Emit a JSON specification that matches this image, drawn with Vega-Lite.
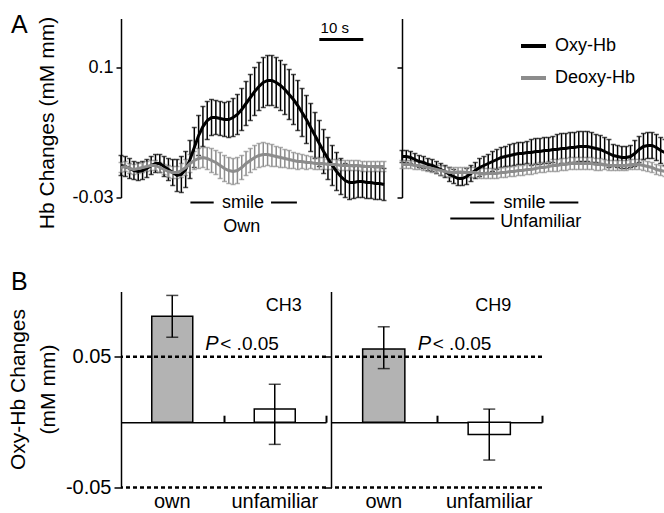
{
"$schema": "https://vega.github.io/schema/vega-lite/v6.json",
"autosize": {"type": "pad"},
"padding": {"left": 7, "top": 12.5, "right": 0, "bottom": 0},
"background": "white",
"config": {
  "font": "Liberation Sans",
  "view": {"stroke": null},
  "axis": {"domainColor": "black", "domainWidth": 1.5, "tickColor": "black", "tickWidth": 1.5, "labelColor": "black", "titleColor": "black", "titleFontWeight": "normal", "grid": false},
  "text": {"font": "Liberation Sans", "color": "black"},
  "legend": {"symbolOpacity": 1}
},
"datasets": {
  "ts": [
{"p":"Own","s":"Oxy-Hb","t":0,"v":0.002,"e":0.010},{"p":"Own","s":"Oxy-Hb","t":1,"v":0.001,"e":0.010},{"p":"Own","s":"Oxy-Hb","t":2,"v":-0.001,"e":0.010},{"p":"Own","s":"Oxy-Hb","t":3,"v":-0.003,"e":0.009},{"p":"Own","s":"Oxy-Hb","t":4,"v":-0.004,"e":0.009},{"p":"Own","s":"Oxy-Hb","t":5,"v":-0.003,"e":0.009},{"p":"Own","s":"Oxy-Hb","t":6,"v":-0.001,"e":0.009},{"p":"Own","s":"Oxy-Hb","t":7,"v":0.002,"e":0.009},{"p":"Own","s":"Oxy-Hb","t":8,"v":0.004,"e":0.009},{"p":"Own","s":"Oxy-Hb","t":9,"v":0.004,"e":0.009},
{"p":"Own","s":"Oxy-Hb","t":10,"v":0.001,"e":0.010},{"p":"Own","s":"Oxy-Hb","t":11,"v":-0.002,"e":0.011},{"p":"Own","s":"Oxy-Hb","t":12,"v":-0.005,"e":0.013},{"p":"Own","s":"Oxy-Hb","t":13,"v":-0.008,"e":0.016},{"p":"Own","s":"Oxy-Hb","t":14,"v":-0.007,"e":0.018},{"p":"Own","s":"Oxy-Hb","t":15,"v":-0.002,"e":0.018},{"p":"Own","s":"Oxy-Hb","t":16,"v":0.008,"e":0.019},{"p":"Own","s":"Oxy-Hb","t":17,"v":0.020,"e":0.020},{"p":"Own","s":"Oxy-Hb","t":18,"v":0.032,"e":0.020},{"p":"Own","s":"Oxy-Hb","t":19,"v":0.041,"e":0.020},
{"p":"Own","s":"Oxy-Hb","t":20,"v":0.047,"e":0.019},{"p":"Own","s":"Oxy-Hb","t":21,"v":0.050,"e":0.018},{"p":"Own","s":"Oxy-Hb","t":22,"v":0.050,"e":0.017},{"p":"Own","s":"Oxy-Hb","t":23,"v":0.049,"e":0.017},{"p":"Own","s":"Oxy-Hb","t":24,"v":0.048,"e":0.017},{"p":"Own","s":"Oxy-Hb","t":25,"v":0.048,"e":0.018},{"p":"Own","s":"Oxy-Hb","t":26,"v":0.050,"e":0.019},{"p":"Own","s":"Oxy-Hb","t":27,"v":0.053,"e":0.020},{"p":"Own","s":"Oxy-Hb","t":28,"v":0.058,"e":0.021},{"p":"Own","s":"Oxy-Hb","t":29,"v":0.064,"e":0.022},
{"p":"Own","s":"Oxy-Hb","t":30,"v":0.070,"e":0.023},{"p":"Own","s":"Oxy-Hb","t":31,"v":0.076,"e":0.024},{"p":"Own","s":"Oxy-Hb","t":32,"v":0.081,"e":0.024},{"p":"Own","s":"Oxy-Hb","t":33,"v":0.085,"e":0.025},{"p":"Own","s":"Oxy-Hb","t":34,"v":0.087,"e":0.025},{"p":"Own","s":"Oxy-Hb","t":35,"v":0.087,"e":0.025},{"p":"Own","s":"Oxy-Hb","t":36,"v":0.085,"e":0.025},{"p":"Own","s":"Oxy-Hb","t":37,"v":0.082,"e":0.025},{"p":"Own","s":"Oxy-Hb","t":38,"v":0.078,"e":0.025},{"p":"Own","s":"Oxy-Hb","t":39,"v":0.073,"e":0.025},
{"p":"Own","s":"Oxy-Hb","t":40,"v":0.068,"e":0.025},{"p":"Own","s":"Oxy-Hb","t":41,"v":0.062,"e":0.025},{"p":"Own","s":"Oxy-Hb","t":42,"v":0.055,"e":0.024},{"p":"Own","s":"Oxy-Hb","t":43,"v":0.048,"e":0.024},{"p":"Own","s":"Oxy-Hb","t":44,"v":0.040,"e":0.024},{"p":"Own","s":"Oxy-Hb","t":45,"v":0.032,"e":0.023},{"p":"Own","s":"Oxy-Hb","t":46,"v":0.024,"e":0.023},{"p":"Own","s":"Oxy-Hb","t":47,"v":0.016,"e":0.022},{"p":"Own","s":"Oxy-Hb","t":48,"v":0.009,"e":0.021},{"p":"Own","s":"Oxy-Hb","t":49,"v":0.002,"e":0.020},
{"p":"Own","s":"Oxy-Hb","t":50,"v":-0.004,"e":0.019},{"p":"Own","s":"Oxy-Hb","t":51,"v":-0.009,"e":0.018},{"p":"Own","s":"Oxy-Hb","t":52,"v":-0.013,"e":0.017},{"p":"Own","s":"Oxy-Hb","t":53,"v":-0.015,"e":0.017},{"p":"Own","s":"Oxy-Hb","t":54,"v":-0.015,"e":0.016},{"p":"Own","s":"Oxy-Hb","t":55,"v":-0.014,"e":0.016},{"p":"Own","s":"Oxy-Hb","t":56,"v":-0.014,"e":0.016},{"p":"Own","s":"Oxy-Hb","t":57,"v":-0.015,"e":0.016},{"p":"Own","s":"Oxy-Hb","t":58,"v":-0.015,"e":0.016},{"p":"Own","s":"Oxy-Hb","t":59,"v":-0.016,"e":0.016},
{"p":"Own","s":"Oxy-Hb","t":60,"v":-0.016,"e":0.016},{"p":"Own","s":"Oxy-Hb","t":61,"v":-0.017,"e":0.016},
{"p":"Own","s":"Deoxy-Hb","t":0,"v":0.000,"e":0.005},{"p":"Own","s":"Deoxy-Hb","t":1,"v":0.001,"e":0.005},{"p":"Own","s":"Deoxy-Hb","t":2,"v":-0.001,"e":0.005},{"p":"Own","s":"Deoxy-Hb","t":3,"v":-0.002,"e":0.005},{"p":"Own","s":"Deoxy-Hb","t":4,"v":-0.001,"e":0.005},{"p":"Own","s":"Deoxy-Hb","t":5,"v":0.000,"e":0.005},{"p":"Own","s":"Deoxy-Hb","t":6,"v":0.001,"e":0.005},{"p":"Own","s":"Deoxy-Hb","t":7,"v":0.002,"e":0.005},{"p":"Own","s":"Deoxy-Hb","t":8,"v":0.002,"e":0.005},{"p":"Own","s":"Deoxy-Hb","t":9,"v":0.000,"e":0.005},
{"p":"Own","s":"Deoxy-Hb","t":10,"v":-0.002,"e":0.005},{"p":"Own","s":"Deoxy-Hb","t":11,"v":-0.004,"e":0.006},{"p":"Own","s":"Deoxy-Hb","t":12,"v":-0.005,"e":0.006},{"p":"Own","s":"Deoxy-Hb","t":13,"v":-0.005,"e":0.006},{"p":"Own","s":"Deoxy-Hb","t":14,"v":-0.003,"e":0.007},{"p":"Own","s":"Deoxy-Hb","t":15,"v":0.000,"e":0.008},{"p":"Own","s":"Deoxy-Hb","t":16,"v":0.004,"e":0.009},{"p":"Own","s":"Deoxy-Hb","t":17,"v":0.007,"e":0.009},{"p":"Own","s":"Deoxy-Hb","t":18,"v":0.009,"e":0.010},{"p":"Own","s":"Deoxy-Hb","t":19,"v":0.010,"e":0.010},
{"p":"Own","s":"Deoxy-Hb","t":20,"v":0.009,"e":0.011},{"p":"Own","s":"Deoxy-Hb","t":21,"v":0.007,"e":0.012},{"p":"Own","s":"Deoxy-Hb","t":22,"v":0.005,"e":0.012},{"p":"Own","s":"Deoxy-Hb","t":23,"v":0.002,"e":0.013},{"p":"Own","s":"Deoxy-Hb","t":24,"v":-0.001,"e":0.013},{"p":"Own","s":"Deoxy-Hb","t":25,"v":-0.003,"e":0.013},{"p":"Own","s":"Deoxy-Hb","t":26,"v":-0.004,"e":0.013},{"p":"Own","s":"Deoxy-Hb","t":27,"v":-0.003,"e":0.013},{"p":"Own","s":"Deoxy-Hb","t":28,"v":0.000,"e":0.012},{"p":"Own","s":"Deoxy-Hb","t":29,"v":0.004,"e":0.012},
{"p":"Own","s":"Deoxy-Hb","t":30,"v":0.007,"e":0.012},{"p":"Own","s":"Deoxy-Hb","t":31,"v":0.010,"e":0.012},{"p":"Own","s":"Deoxy-Hb","t":32,"v":0.012,"e":0.012},{"p":"Own","s":"Deoxy-Hb","t":33,"v":0.013,"e":0.012},{"p":"Own","s":"Deoxy-Hb","t":34,"v":0.013,"e":0.011},{"p":"Own","s":"Deoxy-Hb","t":35,"v":0.012,"e":0.011},{"p":"Own","s":"Deoxy-Hb","t":36,"v":0.011,"e":0.010},{"p":"Own","s":"Deoxy-Hb","t":37,"v":0.010,"e":0.010},{"p":"Own","s":"Deoxy-Hb","t":38,"v":0.009,"e":0.009},{"p":"Own","s":"Deoxy-Hb","t":39,"v":0.008,"e":0.009},
{"p":"Own","s":"Deoxy-Hb","t":40,"v":0.007,"e":0.008},{"p":"Own","s":"Deoxy-Hb","t":41,"v":0.006,"e":0.008},{"p":"Own","s":"Deoxy-Hb","t":42,"v":0.006,"e":0.007},{"p":"Own","s":"Deoxy-Hb","t":43,"v":0.005,"e":0.007},{"p":"Own","s":"Deoxy-Hb","t":44,"v":0.005,"e":0.006},{"p":"Own","s":"Deoxy-Hb","t":45,"v":0.004,"e":0.006},{"p":"Own","s":"Deoxy-Hb","t":46,"v":0.004,"e":0.006},{"p":"Own","s":"Deoxy-Hb","t":47,"v":0.004,"e":0.006},{"p":"Own","s":"Deoxy-Hb","t":48,"v":0.003,"e":0.005},{"p":"Own","s":"Deoxy-Hb","t":49,"v":0.003,"e":0.005},
{"p":"Own","s":"Deoxy-Hb","t":50,"v":0.003,"e":0.005},{"p":"Own","s":"Deoxy-Hb","t":51,"v":0.002,"e":0.005},{"p":"Own","s":"Deoxy-Hb","t":52,"v":0.002,"e":0.005},{"p":"Own","s":"Deoxy-Hb","t":53,"v":0.002,"e":0.005},{"p":"Own","s":"Deoxy-Hb","t":54,"v":0.002,"e":0.005},{"p":"Own","s":"Deoxy-Hb","t":55,"v":0.002,"e":0.005},{"p":"Own","s":"Deoxy-Hb","t":56,"v":0.001,"e":0.005},{"p":"Own","s":"Deoxy-Hb","t":57,"v":0.001,"e":0.005},{"p":"Own","s":"Deoxy-Hb","t":58,"v":0.001,"e":0.005},{"p":"Own","s":"Deoxy-Hb","t":59,"v":0.001,"e":0.005},
{"p":"Own","s":"Deoxy-Hb","t":60,"v":0.001,"e":0.005},{"p":"Own","s":"Deoxy-Hb","t":61,"v":0.001,"e":0.005},
{"p":"Unf","s":"Oxy-Hb","t":0,"v":0.011,"e":0.006},{"p":"Unf","s":"Oxy-Hb","t":1,"v":0.011,"e":0.006},{"p":"Unf","s":"Oxy-Hb","t":2,"v":0.010,"e":0.006},{"p":"Unf","s":"Oxy-Hb","t":3,"v":0.008,"e":0.006},{"p":"Unf","s":"Oxy-Hb","t":4,"v":0.006,"e":0.006},{"p":"Unf","s":"Oxy-Hb","t":5,"v":0.005,"e":0.006},{"p":"Unf","s":"Oxy-Hb","t":6,"v":0.003,"e":0.006},{"p":"Unf","s":"Oxy-Hb","t":7,"v":0.002,"e":0.006},{"p":"Unf","s":"Oxy-Hb","t":8,"v":0.000,"e":0.006},{"p":"Unf","s":"Oxy-Hb","t":9,"v":-0.002,"e":0.006},
{"p":"Unf","s":"Oxy-Hb","t":10,"v":-0.004,"e":0.006},{"p":"Unf","s":"Oxy-Hb","t":11,"v":-0.007,"e":0.007},{"p":"Unf","s":"Oxy-Hb","t":12,"v":-0.009,"e":0.007},{"p":"Unf","s":"Oxy-Hb","t":13,"v":-0.011,"e":0.007},{"p":"Unf","s":"Oxy-Hb","t":14,"v":-0.011,"e":0.007},{"p":"Unf","s":"Oxy-Hb","t":15,"v":-0.009,"e":0.008},{"p":"Unf","s":"Oxy-Hb","t":16,"v":-0.006,"e":0.008},{"p":"Unf","s":"Oxy-Hb","t":17,"v":-0.003,"e":0.008},{"p":"Unf","s":"Oxy-Hb","t":18,"v":0.000,"e":0.009},{"p":"Unf","s":"Oxy-Hb","t":19,"v":0.002,"e":0.009},
{"p":"Unf","s":"Oxy-Hb","t":20,"v":0.004,"e":0.009},{"p":"Unf","s":"Oxy-Hb","t":21,"v":0.006,"e":0.010},{"p":"Unf","s":"Oxy-Hb","t":22,"v":0.008,"e":0.010},{"p":"Unf","s":"Oxy-Hb","t":23,"v":0.010,"e":0.010},{"p":"Unf","s":"Oxy-Hb","t":24,"v":0.011,"e":0.010},{"p":"Unf","s":"Oxy-Hb","t":25,"v":0.012,"e":0.011},{"p":"Unf","s":"Oxy-Hb","t":26,"v":0.013,"e":0.011},{"p":"Unf","s":"Oxy-Hb","t":27,"v":0.014,"e":0.011},{"p":"Unf","s":"Oxy-Hb","t":28,"v":0.014,"e":0.011},{"p":"Unf","s":"Oxy-Hb","t":29,"v":0.015,"e":0.011},
{"p":"Unf","s":"Oxy-Hb","t":30,"v":0.015,"e":0.013},{"p":"Unf","s":"Oxy-Hb","t":31,"v":0.016,"e":0.013},{"p":"Unf","s":"Oxy-Hb","t":32,"v":0.016,"e":0.013},{"p":"Unf","s":"Oxy-Hb","t":33,"v":0.017,"e":0.013},{"p":"Unf","s":"Oxy-Hb","t":34,"v":0.017,"e":0.013},{"p":"Unf","s":"Oxy-Hb","t":35,"v":0.018,"e":0.013},{"p":"Unf","s":"Oxy-Hb","t":36,"v":0.018,"e":0.015},{"p":"Unf","s":"Oxy-Hb","t":37,"v":0.019,"e":0.015},{"p":"Unf","s":"Oxy-Hb","t":38,"v":0.019,"e":0.015},{"p":"Unf","s":"Oxy-Hb","t":39,"v":0.020,"e":0.015},
{"p":"Unf","s":"Oxy-Hb","t":40,"v":0.020,"e":0.015},{"p":"Unf","s":"Oxy-Hb","t":41,"v":0.021,"e":0.015},{"p":"Unf","s":"Oxy-Hb","t":42,"v":0.021,"e":0.015},{"p":"Unf","s":"Oxy-Hb","t":43,"v":0.021,"e":0.015},{"p":"Unf","s":"Oxy-Hb","t":44,"v":0.020,"e":0.015},{"p":"Unf","s":"Oxy-Hb","t":45,"v":0.019,"e":0.014},{"p":"Unf","s":"Oxy-Hb","t":46,"v":0.018,"e":0.014},{"p":"Unf","s":"Oxy-Hb","t":47,"v":0.016,"e":0.014},{"p":"Unf","s":"Oxy-Hb","t":48,"v":0.014,"e":0.014},{"p":"Unf","s":"Oxy-Hb","t":49,"v":0.012,"e":0.011},
{"p":"Unf","s":"Oxy-Hb","t":50,"v":0.011,"e":0.011},{"p":"Unf","s":"Oxy-Hb","t":51,"v":0.010,"e":0.011},{"p":"Unf","s":"Oxy-Hb","t":52,"v":0.010,"e":0.011},{"p":"Unf","s":"Oxy-Hb","t":53,"v":0.011,"e":0.011},{"p":"Unf","s":"Oxy-Hb","t":54,"v":0.014,"e":0.013},{"p":"Unf","s":"Oxy-Hb","t":55,"v":0.018,"e":0.013},{"p":"Unf","s":"Oxy-Hb","t":56,"v":0.021,"e":0.013},{"p":"Unf","s":"Oxy-Hb","t":57,"v":0.022,"e":0.013},{"p":"Unf","s":"Oxy-Hb","t":58,"v":0.022,"e":0.013},{"p":"Unf","s":"Oxy-Hb","t":59,"v":0.020,"e":0.013},
{"p":"Unf","s":"Oxy-Hb","t":60,"v":0.017,"e":0.013},{"p":"Unf","s":"Oxy-Hb","t":61,"v":0.015,"e":0.013},
{"p":"Unf","s":"Deoxy-Hb","t":0,"v":0.003,"e":0.004},{"p":"Unf","s":"Deoxy-Hb","t":1,"v":0.003,"e":0.004},{"p":"Unf","s":"Deoxy-Hb","t":2,"v":0.003,"e":0.004},{"p":"Unf","s":"Deoxy-Hb","t":3,"v":0.002,"e":0.004},{"p":"Unf","s":"Deoxy-Hb","t":4,"v":0.002,"e":0.004},{"p":"Unf","s":"Deoxy-Hb","t":5,"v":0.001,"e":0.004},{"p":"Unf","s":"Deoxy-Hb","t":6,"v":0.000,"e":0.004},{"p":"Unf","s":"Deoxy-Hb","t":7,"v":-0.001,"e":0.004},{"p":"Unf","s":"Deoxy-Hb","t":8,"v":-0.002,"e":0.004},{"p":"Unf","s":"Deoxy-Hb","t":9,"v":-0.003,"e":0.005},
{"p":"Unf","s":"Deoxy-Hb","t":10,"v":-0.004,"e":0.005},{"p":"Unf","s":"Deoxy-Hb","t":11,"v":-0.005,"e":0.005},{"p":"Unf","s":"Deoxy-Hb","t":12,"v":-0.005,"e":0.005},{"p":"Unf","s":"Deoxy-Hb","t":13,"v":-0.005,"e":0.005},{"p":"Unf","s":"Deoxy-Hb","t":14,"v":-0.005,"e":0.005},{"p":"Unf","s":"Deoxy-Hb","t":15,"v":-0.005,"e":0.005},{"p":"Unf","s":"Deoxy-Hb","t":16,"v":-0.005,"e":0.005},{"p":"Unf","s":"Deoxy-Hb","t":17,"v":-0.005,"e":0.005},{"p":"Unf","s":"Deoxy-Hb","t":18,"v":-0.006,"e":0.005},{"p":"Unf","s":"Deoxy-Hb","t":19,"v":-0.006,"e":0.005},
{"p":"Unf","s":"Deoxy-Hb","t":20,"v":-0.006,"e":0.005},{"p":"Unf","s":"Deoxy-Hb","t":21,"v":-0.006,"e":0.005},{"p":"Unf","s":"Deoxy-Hb","t":22,"v":-0.006,"e":0.005},{"p":"Unf","s":"Deoxy-Hb","t":23,"v":-0.005,"e":0.005},{"p":"Unf","s":"Deoxy-Hb","t":24,"v":-0.005,"e":0.005},{"p":"Unf","s":"Deoxy-Hb","t":25,"v":-0.004,"e":0.005},{"p":"Unf","s":"Deoxy-Hb","t":26,"v":-0.004,"e":0.005},{"p":"Unf","s":"Deoxy-Hb","t":27,"v":-0.003,"e":0.005},{"p":"Unf","s":"Deoxy-Hb","t":28,"v":-0.003,"e":0.005},{"p":"Unf","s":"Deoxy-Hb","t":29,"v":-0.002,"e":0.005},
{"p":"Unf","s":"Deoxy-Hb","t":30,"v":-0.002,"e":0.005},{"p":"Unf","s":"Deoxy-Hb","t":31,"v":-0.001,"e":0.005},{"p":"Unf","s":"Deoxy-Hb","t":32,"v":0.000,"e":0.005},{"p":"Unf","s":"Deoxy-Hb","t":33,"v":0.000,"e":0.005},{"p":"Unf","s":"Deoxy-Hb","t":34,"v":0.001,"e":0.005},{"p":"Unf","s":"Deoxy-Hb","t":35,"v":0.002,"e":0.006},{"p":"Unf","s":"Deoxy-Hb","t":36,"v":0.002,"e":0.006},{"p":"Unf","s":"Deoxy-Hb","t":37,"v":0.003,"e":0.006},{"p":"Unf","s":"Deoxy-Hb","t":38,"v":0.003,"e":0.006},{"p":"Unf","s":"Deoxy-Hb","t":39,"v":0.004,"e":0.006},
{"p":"Unf","s":"Deoxy-Hb","t":40,"v":0.004,"e":0.006},{"p":"Unf","s":"Deoxy-Hb","t":41,"v":0.004,"e":0.006},{"p":"Unf","s":"Deoxy-Hb","t":42,"v":0.004,"e":0.006},{"p":"Unf","s":"Deoxy-Hb","t":43,"v":0.004,"e":0.006},{"p":"Unf","s":"Deoxy-Hb","t":44,"v":0.004,"e":0.006},{"p":"Unf","s":"Deoxy-Hb","t":45,"v":0.003,"e":0.006},{"p":"Unf","s":"Deoxy-Hb","t":46,"v":0.003,"e":0.006},{"p":"Unf","s":"Deoxy-Hb","t":47,"v":0.003,"e":0.005},{"p":"Unf","s":"Deoxy-Hb","t":48,"v":0.002,"e":0.005},{"p":"Unf","s":"Deoxy-Hb","t":49,"v":0.002,"e":0.005},
{"p":"Unf","s":"Deoxy-Hb","t":50,"v":0.002,"e":0.005},{"p":"Unf","s":"Deoxy-Hb","t":51,"v":0.002,"e":0.005},{"p":"Unf","s":"Deoxy-Hb","t":52,"v":0.002,"e":0.005},{"p":"Unf","s":"Deoxy-Hb","t":53,"v":0.003,"e":0.005},{"p":"Unf","s":"Deoxy-Hb","t":54,"v":0.003,"e":0.005},{"p":"Unf","s":"Deoxy-Hb","t":55,"v":0.003,"e":0.005},{"p":"Unf","s":"Deoxy-Hb","t":56,"v":0.002,"e":0.005},{"p":"Unf","s":"Deoxy-Hb","t":57,"v":0.001,"e":0.005},{"p":"Unf","s":"Deoxy-Hb","t":58,"v":0.000,"e":0.005},{"p":"Unf","s":"Deoxy-Hb","t":59,"v":-0.002,"e":0.005},
{"p":"Unf","s":"Deoxy-Hb","t":60,"v":-0.003,"e":0.005},{"p":"Unf","s":"Deoxy-Hb","t":61,"v":-0.004,"e":0.005}
  ],
  "bars": [
    {"ch":"CH3","cond":"own","v":0.081,"lo":0.065,"hi":0.097},
    {"ch":"CH3","cond":"unfamiliar","v":0.010,"lo":-0.017,"hi":0.029},
    {"ch":"CH9","cond":"own","v":0.056,"lo":0.041,"hi":0.073},
    {"ch":"CH9","cond":"unfamiliar","v":-0.0095,"lo":-0.029,"hi":0.010}
  ]
},
"spacing": 33,
"bounds": "full",
"vconcat": [
{
  "hconcat": [
  {
    "width": 263, "height": 179,
    "layer": [
      {"data": {"name": "ts"}, "transform": [{"filter": "datum.p === 'Own'"}], "mark": {"type": "errorbar", "ticks": {"size": 5}, "thickness": 1.5},
       "encoding": {
         "x": {"field": "t", "type": "quantitative", "scale": {"domain": [0, 61], "nice": false, "zero": false}, "axis": null},
         "y": {"field": "v", "type": "quantitative", "scale": {"domain": [-0.03, 0.149], "nice": false, "zero": false},
               "axis": {"values": [-0.03, 0.1], "format": "~r", "labelExpr": "replace(datum.label, '−', '-')", "labelFontSize": 18, "labelPadding": 3, "tickSize": 5, "title": "Hb Changes (mM mm)", "titleFontSize": 21, "titlePadding": 14, "titleY": 104}},
         "yError": {"field": "e"},
         "color": {"field": "s", "type": "nominal", "scale": {"domain": ["Oxy-Hb", "Deoxy-Hb"], "range": ["#000000", "#8c8c8c"]}, "legend": null}
       }},
      {"data": {"name": "ts"}, "transform": [{"filter": "datum.p === 'Own'"}], "mark": {"type": "line", "strokeWidth": 3},
       "encoding": {
         "x": {"field": "t", "type": "quantitative", "axis": null},
         "y": {"field": "v", "type": "quantitative"},
         "color": {"field": "s", "type": "nominal", "legend": null}
       }},
      {"data": {"values": [{}]}, "mark": {"type": "rule", "strokeWidth": 2, "color": "black"}, "encoding": {"x": {"datum": 16.1}, "x2": {"datum": 21.5}, "y": {"datum": -0.035}}},
      {"data": {"values": [{}]}, "mark": {"type": "rule", "strokeWidth": 2, "color": "black"}, "encoding": {"x": {"datum": 34.8}, "x2": {"datum": 40.8}, "y": {"datum": -0.035}}},
      {"data": {"values": [{}]}, "mark": {"type": "text", "text": "smile", "fontSize": 18, "baseline": "middle", "color": "black"}, "encoding": {"x": {"datum": 28.3}, "y": {"datum": -0.0355}}},
      {"data": {"values": [{}]}, "mark": {"type": "text", "text": "Own", "fontSize": 18, "baseline": "middle", "color": "black"}, "encoding": {"x": {"datum": 28.0}, "y": {"datum": -0.0595}}},
      {"data": {"values": [{}]}, "mark": {"type": "rule", "strokeWidth": 3, "color": "black"}, "encoding": {"x": {"datum": 46.0}, "x2": {"datum": 56.2}, "y": {"datum": 0.128}}},
      {"data": {"values": [{}]}, "mark": {"type": "text", "text": "10 s", "fontSize": 15, "baseline": "middle", "align": "left", "color": "black"}, "encoding": {"x": {"datum": 46.3}, "y": {"datum": 0.1395}}},
      {"data": {"values": [{}]}, "mark": {"type": "text", "text": "A", "fontSize": 25, "baseline": "middle", "color": "black"}, "encoding": {"x": {"datum": -23.6}, "y": {"datum": 0.143}}}
    ]
  },
  {
    "width": 263, "height": 179,
    "layer": [
      {"data": {"name": "ts"}, "transform": [{"filter": "datum.p === 'Unf'"}], "mark": {"type": "errorbar", "ticks": {"size": 5}, "thickness": 1.5},
       "encoding": {
         "x": {"field": "t", "type": "quantitative", "scale": {"domain": [0, 61], "nice": false, "zero": false}, "axis": null},
         "y": {"field": "v", "type": "quantitative", "scale": {"domain": [-0.03, 0.149], "nice": false, "zero": false},
               "axis": {"values": [-0.03, 0.1], "labels": false, "tickSize": 5, "title": null}},
         "yError": {"field": "e"},
         "color": {"field": "s", "type": "nominal", "scale": {"domain": ["Oxy-Hb", "Deoxy-Hb"], "range": ["#000000", "#8c8c8c"]},
                   "legend": {"orient": "none", "legendX": 117, "legendY": 13, "title": null, "symbolType": "stroke", "symbolSize": 625, "symbolStrokeWidth": 4, "labelFontSize": 18, "labelOffset": 7, "rowPadding": 8, "padding": 0, "labelColor": "black", "labelFont": "Liberation Sans"}}
       }},
      {"data": {"name": "ts"}, "transform": [{"filter": "datum.p === 'Unf'"}], "mark": {"type": "line", "strokeWidth": 3},
       "encoding": {
         "x": {"field": "t", "type": "quantitative", "axis": null},
         "y": {"field": "v", "type": "quantitative"},
         "color": {"field": "s", "type": "nominal"}
       }},
      {"data": {"values": [{}]}, "mark": {"type": "rule", "strokeWidth": 2, "color": "black"}, "encoding": {"x": {"datum": 15.8}, "x2": {"datum": 21.4}, "y": {"datum": -0.035}}},
      {"data": {"values": [{}]}, "mark": {"type": "rule", "strokeWidth": 2, "color": "black"}, "encoding": {"x": {"datum": 34.2}, "x2": {"datum": 40.9}, "y": {"datum": -0.035}}},
      {"data": {"values": [{}]}, "mark": {"type": "text", "text": "smile", "fontSize": 18, "baseline": "middle", "color": "black"}, "encoding": {"x": {"datum": 28.4}, "y": {"datum": -0.0355}}},
      {"data": {"values": [{}]}, "mark": {"type": "rule", "strokeWidth": 2, "color": "black"}, "encoding": {"x": {"datum": 11.2}, "x2": {"datum": 21.4}, "y": {"datum": -0.051}}},
      {"data": {"values": [{}]}, "mark": {"type": "text", "text": "Unfamiliar", "fontSize": 18, "baseline": "middle", "align": "left", "color": "black"}, "encoding": {"x": {"datum": 22.8}, "y": {"datum": -0.0545}}}
    ]
  }
  ],
  "spacing": 18,
  "bounds": "flush",
  "resolve": {"scale": {"color": "independent"}, "legend": {"color": "independent"}}
},
{
  "hconcat": [
  {
    "width": 205, "height": 196,
    "layer": [
      {"data": {"name": "bars"}, "transform": [{"filter": "datum.ch === 'CH3'"}], "mark": {"type": "bar", "stroke": "black", "strokeWidth": 1.5},
       "encoding": {
         "x": {"field": "cond", "type": "nominal", "scale": {"domain": ["own", "unfamiliar"], "paddingInner": 0.6, "paddingOuter": 0.3},
               "axis": {"orient": "bottom", "domain": false, "ticks": false, "labelAngle": 0, "labelFontSize": 20, "labelPadding": 4, "title": null}},
         "y": {"field": "v", "type": "quantitative", "scale": {"domain": [-0.05, 0.1], "nice": false, "zero": false},
               "axis": {"values": [-0.05, 0.05], "format": ".2f", "labelExpr": "replace(datum.label, '−', '-')", "labelFontSize": 20, "labelPadding": 3, "tickSize": 7, "title": ["Oxy-Hb Changes", "(mM mm)"], "titleFontSize": 21, "titleLineHeight": 30, "titlePadding": 7, "titleY": 97.5}},
         "fill": {"condition": {"test": "datum.cond === 'own'", "value": "#b3b3b3"}, "value": "#ffffff"}
       }},
      {"data": {"values": [{}]}, "mark": {"type": "rule", "strokeDash": [4, 3], "strokeWidth": 2.5, "color": "black"}, "encoding": {"y": {"datum": 0.05}}},
      {"data": {"values": [{}]}, "mark": {"type": "rule", "strokeDash": [4, 3], "strokeWidth": 2.5, "color": "black"}, "encoding": {"y": {"datum": -0.05}}},
      {"data": {"name": "bars"}, "transform": [{"filter": "datum.ch === 'CH3'"}], "mark": {"type": "errorbar", "ticks": {"size": 12}, "thickness": 1.5, "color": "black"},
       "encoding": {
         "x": {"field": "cond", "type": "nominal", "axis": {"orient": "top", "offset": -130.7, "labels": false, "domain": true, "ticks": true, "tickOffset": 51.25, "tickSize": 7, "tickWidth": 2, "title": null}},
         "y": {"field": "lo", "type": "quantitative", "title": ["Oxy-Hb Changes", "(mM mm)"]},
         "y2": {"field": "hi"}
       }},
      {"data": {"values": [{}]}, "mark": {"type": "text", "text": "CH3", "fontSize": 18, "baseline": "middle", "dx": 9, "color": "black"}, "encoding": {"x": {"datum": "unfamiliar", "axis": null}, "y": {"datum": 0.0886}}},
      {"data": {"values": [{}]}, "mark": {"type": "text", "text": "P", "fontSize": 20, "fontStyle": "italic", "baseline": "middle", "align": "left", "dx": 33, "color": "black"}, "encoding": {"x": {"datum": "own", "axis": null}, "y": {"datum": 0.0595}}},
      {"data": {"values": [{}]}, "mark": {"type": "text", "text": "< .0.05", "fontSize": 19, "baseline": "middle", "align": "left", "dx": 48, "color": "black"}, "encoding": {"x": {"datum": "own", "axis": null}, "y": {"datum": 0.0595}}},
      {"data": {"values": [{}]}, "mark": {"type": "text", "text": "B", "fontSize": 25, "baseline": "middle", "dx": -153, "color": "black"}, "encoding": {"x": {"datum": "own", "axis": null}, "y": {"datum": 0.107}}}
    ],
    "resolve": {"axis": {"x": "independent"}}
  },
  {
    "width": 211, "height": 196,
    "layer": [
      {"data": {"name": "bars"}, "transform": [{"filter": "datum.ch === 'CH9'"}], "mark": {"type": "bar", "stroke": "black", "strokeWidth": 1.5},
       "encoding": {
         "x": {"field": "cond", "type": "nominal", "scale": {"domain": ["own", "unfamiliar"], "paddingInner": 0.6, "paddingOuter": 0.3},
               "axis": {"orient": "bottom", "domain": false, "ticks": false, "labelAngle": 0, "labelFontSize": 20, "labelPadding": 4, "title": null}},
         "y": {"field": "v", "type": "quantitative", "scale": {"domain": [-0.05, 0.1], "nice": false, "zero": false},
               "axis": {"values": [-0.05, 0.05], "labels": false, "tickSize": 7, "title": null}},
         "fill": {"condition": {"test": "datum.cond === 'own'", "value": "#b3b3b3"}, "value": "#ffffff"}
       }},
      {"data": {"values": [{}]}, "mark": {"type": "rule", "strokeDash": [4, 3], "strokeWidth": 2.5, "color": "black"}, "encoding": {"y": {"datum": 0.05}}},
      {"data": {"values": [{}]}, "mark": {"type": "rule", "strokeDash": [4, 3], "strokeWidth": 2.5, "color": "black"}, "encoding": {"y": {"datum": -0.05}}},
      {"data": {"name": "bars"}, "transform": [{"filter": "datum.ch === 'CH9'"}], "mark": {"type": "errorbar", "ticks": {"size": 12}, "thickness": 1.5, "color": "black"},
       "encoding": {
         "x": {"field": "cond", "type": "nominal", "axis": {"orient": "top", "offset": -130.7, "labels": false, "domain": true, "ticks": true, "tickOffset": 52.75, "tickSize": 7, "tickWidth": 2, "title": null}},
         "y": {"field": "lo", "type": "quantitative"},
         "y2": {"field": "hi"}
       }},
      {"data": {"values": [{}]}, "mark": {"type": "text", "text": "CH9", "fontSize": 18, "baseline": "middle", "dx": 4, "color": "black"}, "encoding": {"x": {"datum": "unfamiliar", "axis": null}, "y": {"datum": 0.0886}}},
      {"data": {"values": [{}]}, "mark": {"type": "text", "text": "P", "fontSize": 20, "fontStyle": "italic", "baseline": "middle", "align": "left", "dx": 34, "color": "black"}, "encoding": {"x": {"datum": "own", "axis": null}, "y": {"datum": 0.0595}}},
      {"data": {"values": [{}]}, "mark": {"type": "text", "text": "< .0.05", "fontSize": 19, "baseline": "middle", "align": "left", "dx": 49, "color": "black"}, "encoding": {"x": {"datum": "own", "axis": null}, "y": {"datum": 0.0595}}}
    ],
    "resolve": {"axis": {"x": "independent"}}
  }
  ],
  "spacing": 5,
  "bounds": "flush"
}
]
}
